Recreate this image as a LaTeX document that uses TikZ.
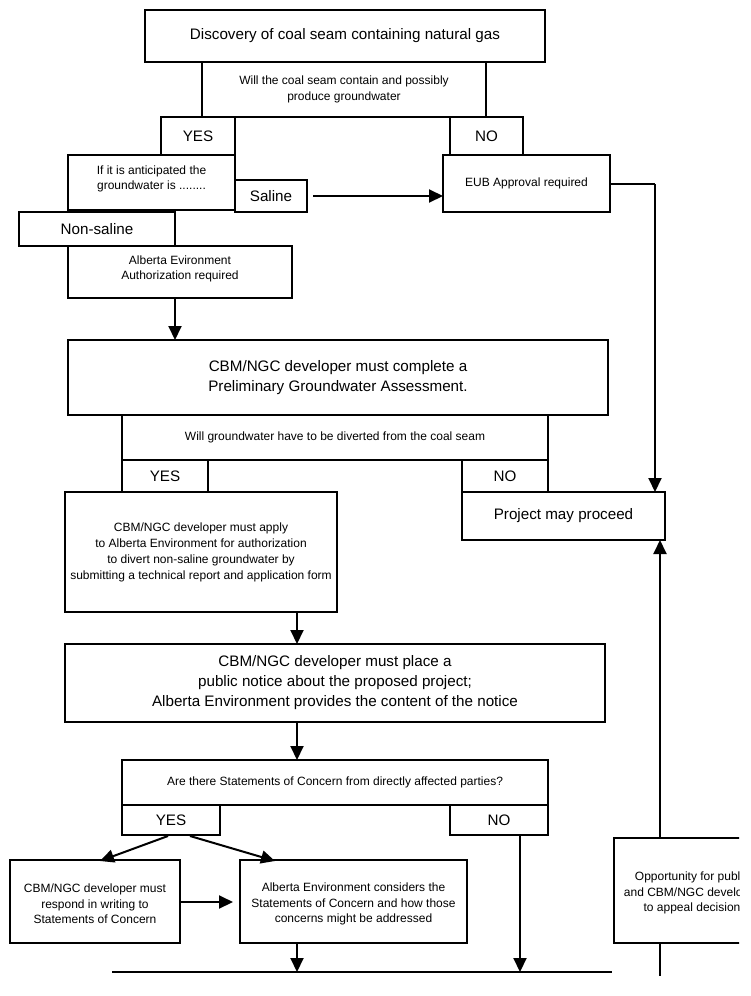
\documentclass[tikz,border=0pt]{standalone}
\usepackage{fontspec}
\setmainfont{Liberation Sans}
\usetikzlibrary{arrows.meta,calc}
\begin{document}
\begin{tikzpicture}[x=1pt,y=-1pt,
  box/.style={draw, line width=2pt, inner sep=2pt, outer sep=0pt, align=center, font=\fontsize{12}{16}\selectfont},
  txt/.style={inner sep=0pt, align=center, font=\fontsize{12}{15.5}\selectfont},
  big/.style={font=\fontsize{15.2}{20}\selectfont},
  arr/.style={line width=2pt, -{Triangle[length=14pt,width=13pt]}},
  ln/.style={line width=2pt}]
\useasboundingbox (0,0) rectangle (750,996);
\clip (0,0) rectangle (739,996);
% top part
\node[box, big, line width=2.8pt, minimum width=400pt, minimum height=52pt] (top) at (345,36) {Discovery of coal seam containing natural gas};
\node[box, minimum width=284pt, minimum height=55pt] (q1) at (344,89.5) {Will the coal seam contain and possibly\\produce groundwater};
\node[box, big, minimum width=74pt, minimum height=38pt] (yes1) at (198,136) {YES};
\node[box, big, minimum width=73pt, minimum height=38pt] (no1) at (486.5,136) {NO};
\node[box, minimum width=167pt, minimum height=55pt] (antic) at (151.5,182.5) {};
\node[txt] (antictxt) at (151.5,179) {If it is anticipated the\\groundwater is ........};
\node[box, big, minimum width=72pt, minimum height=32pt] (saline) at (271,196) {Saline};
\node[box, minimum width=167pt, minimum height=57pt] (eub) at (526.5,183.5) {EUB Approval required};
\node[box, big, minimum width=156pt, minimum height=34pt] (nonsal) at (97,229) {Non-saline};
\node[box, minimum width=224pt, minimum height=52pt] (aenv) at (180,272) {};
\node[txt] (aenvtxt) at (180,269) {Alberta Evironment\\Authorization required};
% middle part
\node[box, big, minimum width=540pt, minimum height=75pt] (pga) at (338,377.5) {CBM/NGC developer must complete a\\Preliminary Groundwater Assessment.};
\node[box, minimum width=426pt, minimum height=45pt] (q2) at (335,437.5) {Will groundwater have to be diverted from the coal seam};
\node[box, big, minimum width=86pt, minimum height=32pt] (yes2) at (165,476) {YES};
\node[box, big, minimum width=86pt, minimum height=32pt] (no2) at (505,476) {NO};
\node[box, big, minimum width=203pt, minimum height=48pt] (proceed) at (563.5,516) {Project may proceed};
\node[box, minimum width=272pt, minimum height=120pt] (apply) at (201,552) {CBM/NGC developer must apply\\to Alberta Environment for authorization\\to divert non-saline groundwater by\\submitting a technical report and application form};
\node[box, big, minimum width=540pt, minimum height=78pt] (notice) at (335,683) {CBM/NGC developer must place a\\public notice about the proposed project;\\Alberta Environment provides the content of the notice};
% lower part
\node[box, minimum width=426pt, minimum height=45pt] (q3) at (335,782.5) {Are there Statements of Concern from directly affected parties?};
\node[box, big, minimum width=98pt, minimum height=30pt] (yes3) at (171,820) {YES};
\node[box, big, minimum width=98pt, minimum height=30pt] (no3) at (499,820) {NO};
\node[box, minimum width=170pt, minimum height=83pt] (resp) at (95,901.5) {};
\node[txt] (resptxt) at (95,904) {CBM/NGC developer must\\respond in writing to\\Statements of Concern};
\node[box, minimum width=227pt, minimum height=83pt] (cons) at (353.5,901.5) {};
\node[txt] (constxt) at (353.5,904) {Alberta Environment considers the\\Statements of Concern and how those\\concerns might be addressed};
\node[box, minimum width=162pt, minimum height=105pt] (appeal) at (695,890.5) {};
\node[txt] (appealtxt) at (692,893) {Opportunity for public\\and CBM/NGC developer\\to appeal decision};
% coordinates
\coordinate (salend) at (313,196);
\coordinate (eubturn) at (655,184);
\coordinate (proctop) at (655,492);
\coordinate (ysA) at (168,836);
\coordinate (ysB) at (190,836);
\coordinate (respin) at (100,861);
\coordinate (consin) at (275,861);
\coordinate (lineL) at (112,972);
\coordinate (lineR) at (612,972);
\coordinate (appbot) at (660,976);
% connectors
\draw[arr] (salend) -- (salend -| eub.west);
\draw[ln] (eub.east |- eubturn) -- (eubturn);
\draw[arr] (eubturn) -- (proctop);
\draw[arr] (aenv.south -| 175,0) -- (pga.north -| 175,0);
\draw[arr] (apply.south -| 297,0) -- (notice.north -| 297,0);
\draw[arr] (notice.south -| 297,0) -- (q3.north -| 297,0);
\draw[arr] (ysA) -- (respin);
\draw[arr] (ysB) -- (consin);
\draw[arr] (resp.east |- 0,902) -- (233,902);
\draw[arr] (cons.south -| 297,0) -- (lineL -| 297,0);
\draw[arr] (no3.south -| 520,0) -- (lineL -| 520,0);
\draw[ln] (lineL) -- (lineR);
\draw[arr] (appeal.north -| 660,0) -- (proceed.south -| 660,0);
\draw[ln] (appeal.south -| 660,0) -- (appbot);
\end{tikzpicture}
\end{document}
